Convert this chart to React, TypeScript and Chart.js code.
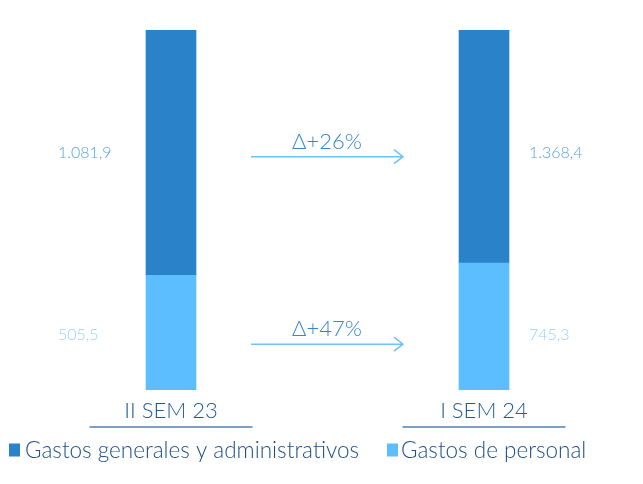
import React, { useEffect, useRef } from "react";
import { Chart, registerables } from "chart.js";

Chart.register(...registerables);

const categories = ["II SEM 23", "I SEM 24"];
const personal = [505.5, 745.3];
const generales = [1081.9, 1368.4];
const personalLabels = ["505,5", "745,3"];
const generalesLabels = ["1.081,9", "1.368,4"];
const deltaLabels = ["Δ+47%", "Δ+26%"]; // personal, generales
const seriesNames = ["Gastos de personal", "Gastos generales y administrativos"];

const totals = categories.map((_, i) => personal[i] + generales[i]);
const personalShare = personal.map((v, i) => (v / totals[i]) * 100);
const generalesShare = generales.map((v, i) => (v / totals[i]) * 100);

const DARK = "#2A83C8";
const LIGHT = "#5CBDFF";
const FONT = "Lato, 'Noto Sans', sans-serif";

const overlayPlugin = {
  id: "overlay",
  afterDraw(chart: any) {
    const ctx = chart.ctx;
    const labelSets = [personalLabels, generalesLabels];
    const labelColors = ["#98D1FF", "#5BA2DE"];
    const labelOffsets = [2.5, 0.5];
    const arrowOffsets = [11.5, 4];
    ctx.save();
    for (let d = 0; d < 2; d++) {
      const meta = chart.getDatasetMeta(d);
      const el0 = meta.data[0];
      const el1 = meta.data[1];
      const rowY = (el0.y + el0.base) / 2;
      ctx.font = `300 16px ${FONT}`;
      ctx.fillStyle = labelColors[d];
      ctx.textBaseline = "middle";
      ctx.textAlign = "left";
      ctx.fillText(labelSets[d][0], el0.x - el0.width / 2 - 88, rowY + labelOffsets[d]);
      ctx.fillText(labelSets[d][1], el1.x + el1.width / 2 + 20, rowY + labelOffsets[d]);
      // arrow
      const x0 = el0.x + el0.width / 2 + 55;
      const x1 = el1.x - el1.width / 2 - 56;
      const ay = rowY + arrowOffsets[d];
      ctx.strokeStyle = "#6CC3F8";
      ctx.lineWidth = 1.5;
      ctx.beginPath();
      ctx.moveTo(x0, ay);
      ctx.lineTo(x1, ay);
      ctx.moveTo(x1 - 9, ay - 7);
      ctx.lineTo(x1, ay);
      ctx.lineTo(x1 - 9, ay + 7);
      ctx.stroke();
      ctx.font = `300 22px ${FONT}`;
      ctx.fillStyle = "#3487CF";
      ctx.textAlign = "center";
      ctx.fillText(deltaLabels[d], (x0 + x1) / 2, ay - 15);
    }
    // category underlines
    const xs = chart.scales.x;
    ctx.strokeStyle = "#7E9FC1";
    ctx.lineWidth = 2;
    for (let i = 0; i < categories.length; i++) {
      const cx = xs.getPixelForValue(i);
      ctx.beginPath();
      ctx.moveTo(cx - 81.5, 427);
      ctx.lineTo(cx + 81.5, 427);
      ctx.stroke();
    }
    // legend (generales first, then personal)
    const legendItems = [
      { name: seriesNames[1], color: DARK, boxX: 9, textX: 25 },
      { name: seriesNames[0], color: LIGHT, boxX: 387, textX: 401 },
    ];
    ctx.font = `300 22.5px ${FONT}`;
    ctx.textAlign = "left";
    ctx.textBaseline = "middle";
    for (const it of legendItems) {
      ctx.fillStyle = it.color;
      ctx.fillRect(it.boxX, 443.5, 11, 13);
      ctx.fillStyle = "#1C4F8A";
      ctx.fillText(it.name, it.textX, 450.5);
    }
    ctx.restore();
  },
};

export default function App() {
  const ref = useRef<HTMLCanvasElement | null>(null);
  useEffect(() => {
    if (!ref.current) return;
    const chart = new Chart(ref.current, {
      type: "bar",
      data: {
        labels: categories,
        datasets: [
          {
            label: seriesNames[0],
            data: personalShare,
            backgroundColor: LIGHT,
            barThickness: 50,
          },
          {
            label: seriesNames[1],
            data: generalesShare,
            backgroundColor: DARK,
            barThickness: 50,
          },
        ],
      },
      options: {
        animation: false,
        responsive: true,
        maintainAspectRatio: false,
        layout: { padding: { left: 14.5, right: 2.5, top: 30, bottom: 51.6 } },
        scales: {
          x: {
            stacked: true,
            grid: { display: false, drawTicks: false },
            border: { display: false },
            ticks: {
              color: "#1E5A98",
              font: { family: FONT, size: 22, weight: 300 as any },
              padding: 8,
            },
          },
          y: {
            stacked: true,
            display: false,
            min: 0,
            max: 100,
          },
        },
        plugins: {
          tooltip: { enabled: false },
          legend: { display: false },
        },
      },
      plugins: [overlayPlugin],
    });
    return () => chart.destroy();
  }, []);
  return (
    <div style={{ position: "absolute", left: 0, top: 0, width: 643, height: 484 }}>
      <canvas ref={ref} />
    </div>
  );
}
